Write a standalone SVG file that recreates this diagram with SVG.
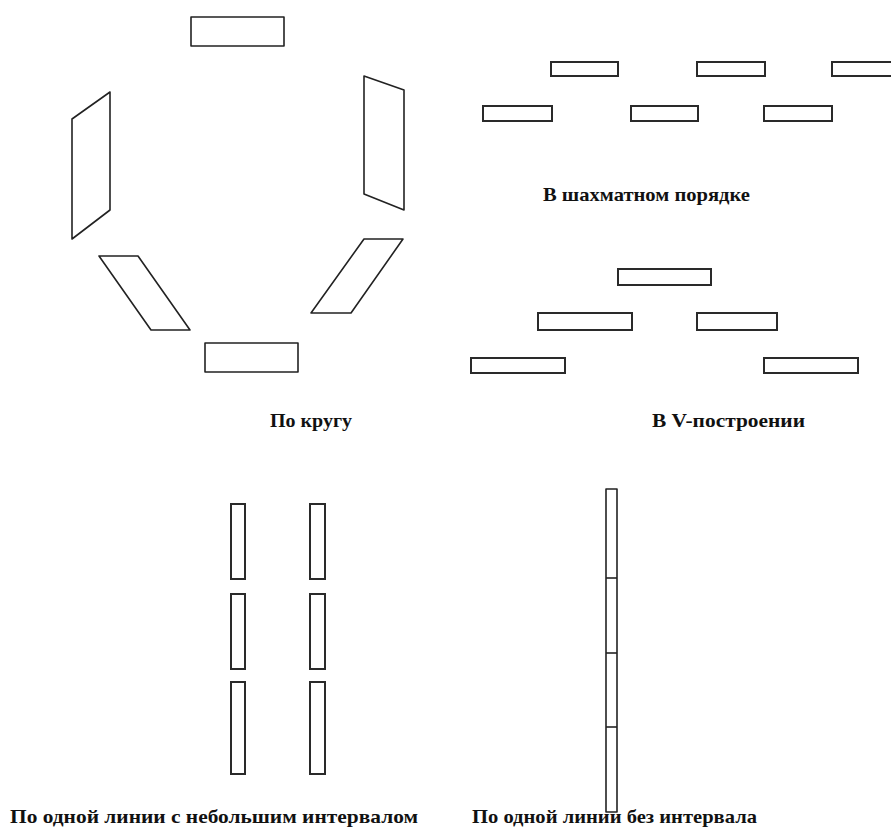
<svg xmlns="http://www.w3.org/2000/svg" width="891" height="830" viewBox="0 0 891 830">
<style>
.s{fill:#fff;stroke:#222;stroke-width:1.6;stroke-linejoin:round}
.b{fill:#fff;stroke:#2a2a2a;stroke-width:2}
.l{stroke:#222;stroke-width:1.6}
text{font-family:"Liberation Serif","Times New Roman",serif;font-size:19px;fill:#111;font-weight:bold}
</style>
<rect width="891" height="830" fill="#fff"/>
<g id="circle">
<rect class="s" x="191" y="17" width="93" height="29"/>
<polygon class="s" points="110,92 110,210 72,239 72,119"/>
<polygon class="s" points="364,76 404,90 404,210 364,194"/>
<polygon class="s" points="99,256 138,256 190,330 151,330"/>
<polygon class="s" points="364,239 403,239 351,313 311,313"/>
<rect class="s" x="205" y="343" width="93" height="29"/>
<text x="270" y="427" textLength="82" lengthAdjust="spacingAndGlyphs">По кругу</text>
</g>
<g id="checker">
<rect class="b" x="551" y="62" width="67" height="14"/>
<rect class="b" x="697" y="62" width="68" height="14"/>
<rect class="b" x="832" y="62" width="68" height="14"/>
<rect class="b" x="483" y="106" width="69" height="15"/>
<rect class="b" x="631" y="106" width="67" height="15"/>
<rect class="b" x="764" y="106" width="68" height="15"/>
<text x="543" y="201" textLength="207" lengthAdjust="spacingAndGlyphs">В шахматном порядке</text>
</g>
<g id="vformation">
<rect class="b" x="618" y="269" width="93" height="16"/>
<rect class="b" x="538" y="313" width="94" height="17"/>
<rect class="b" x="697" y="313" width="80" height="17"/>
<rect class="b" x="471" y="358" width="94" height="15"/>
<rect class="b" x="764" y="358" width="94" height="15"/>
<text x="652" y="427" textLength="153" lengthAdjust="spacingAndGlyphs">В V-построении</text>
</g>
<g id="twolines">
<rect class="b" x="231" y="504" width="14" height="75"/>
<rect class="b" x="231" y="594" width="14" height="75"/>
<rect class="b" x="231" y="682" width="14" height="92"/>
<rect class="b" x="310" y="504" width="15" height="75"/>
<rect class="b" x="310" y="594" width="15" height="75"/>
<rect class="b" x="310" y="682" width="15" height="92"/>
<text x="10" y="823" textLength="408" lengthAdjust="spacingAndGlyphs">По одной линии с небольшим интервалом</text>
</g>
<g id="oneline">
<rect class="s" x="606" y="489" width="11" height="323"/>
<line class="l" x1="606" y1="578" x2="617" y2="578"/>
<line class="l" x1="606" y1="653" x2="617" y2="653"/>
<line class="l" x1="606" y1="727" x2="617" y2="727"/>
<text x="472" y="823" textLength="285" lengthAdjust="spacingAndGlyphs">По одной линии без интервала</text>
</g>
</svg>
